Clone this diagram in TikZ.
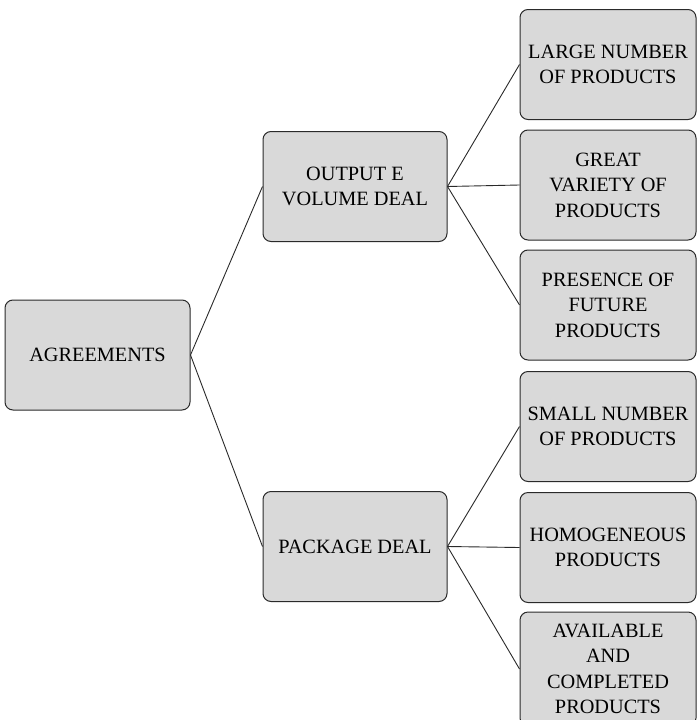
\documentclass[tikz,border=0pt]{standalone}
\usepackage{fontspec}
\setmainfont{Liberation Serif}
\usepackage{xcolor}
\usepackage{tikz}

\definecolor{boxgray}{HTML}{D9D9D9}
\definecolor{edgegray}{HTML}{2A2A2A}

\begin{document}
\begin{tikzpicture}[x=1pt, y=-1pt,
  nd/.style={draw=edgegray, fill=boxgray, rounded corners=8pt, line width=1pt,
             align=center, inner sep=2pt,
             font=\fontsize{20.3}{25.5}\selectfont},
  big/.style={nd, minimum width=184pt, minimum height=110pt},
  leaf/.style={nd, minimum width=176pt, minimum height=110pt},
  ln/.style={draw=edgegray, line width=0.9pt}]
\useasboundingbox (0,0) rectangle (697,720);
\node[nd, minimum width=185pt, minimum height=110pt] (A) at (97.5,355) {AGREEMENTS};
\node[big] (O) at (355,186.5) {OUTPUT E\\VOLUME DEAL};
\node[big] (P) at (355,546.5) {PACKAGE DEAL};
\node[leaf] (L1) at (608,64.5) {LARGE NUMBER\\OF PRODUCTS};
\node[leaf] (L2) at (608,185) {GREAT\\VARIETY OF\\PRODUCTS};
\node[leaf] (L3) at (608,305) {PRESENCE OF\\FUTURE\\PRODUCTS};
\node[leaf] (L4) at (608,426.5) {SMALL NUMBER\\OF PRODUCTS};
\node[leaf] (L5) at (608,547.5) {HOMOGENEOUS\\PRODUCTS};
\node[leaf, minimum height=114pt] (L6) at (608,669) {AVAILABLE\\AND\\COMPLETED\\PRODUCTS};
\draw[ln] (A.east)--(O.west);
\draw[ln] (A.east)--(P.west);
\draw[ln] (O.east)--(L1.west);
\draw[ln] (O.east)--(L2.west);
\draw[ln] (O.east)--(L3.west);
\draw[ln] (P.east)--(L4.west);
\draw[ln] (P.east)--(L5.west);
\draw[ln] (P.east)--(L6.west);
\end{tikzpicture}
\end{document}
